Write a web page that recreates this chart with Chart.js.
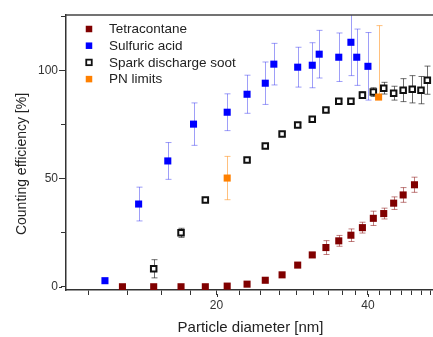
<!DOCTYPE html>
<html>
<head>
<meta charset="utf-8">
<title>Counting efficiency</title>
<script src="https://cdn.jsdelivr.net/npm/chart.js@4.4.1/dist/chart.umd.min.js"></script>
<style>
  html, body { margin: 0; padding: 0; background: #fff; overflow: hidden; }
  #wrap { position: relative; width: 441px; height: 337px; }
</style>
</head>
<body>
<div id="wrap"><canvas id="effChart" width="441" height="337"></canvas></div>
<script>
// particle diameter [nm] / counting efficiency [%] / error [%]
const tetraDiam = [13, 15, 17, 19, 21, 23, 25, 27, 29, 31, 33, 35, 37, 39, 41, 43, 45, 47, 49.5];
const tetraEff  = [0, 0, 0, 0, 0.3, 1.2, 3, 5.5, 10, 14.7, 18.1, 21.2, 23.8, 27.3, 31.6, 33.8, 38.6, 42.4, 47.1];
const tetraErr  = [0, 0, 0, 0, 0, 0, 0, 0, 0, 1, 3.2, 2.5, 2.9, 2.5, 3.3, 2.5, 2.9, 3.4, 3.5];

const acidDiam = [12, 14, 16, 18, 21, 23, 25, 26, 29, 31, 32, 35, 37, 38, 40];
const acidEff  = [2.8, 38.2, 58.1, 75.1, 80.6, 88.9, 94.0, 102.8, 101.4, 102.3, 107.4, 106.0, 112.9, 106.0, 101.8];
const acidErr  = [0, 7.8, 8.5, 9.8, 8.5, 8.8, 9.8, 9.6, 9.2, 10.4, 11, 11.2, 15.4, 13, 15.6];

const sootDiam = [15, 17, 19, 23, 25, 27, 29, 31, 33, 35, 37, 39, 41, 43, 45, 47, 49, 51, 52.5];
const sootEff  = [8.3, 24.9, 40.1, 58.5, 65.0, 70.5, 74.7, 77.4, 81.6, 85.7, 85.7, 88.5, 89.9, 91.7, 89.4, 90.8, 91.2, 90.8, 95.4];
const sootErr  = [4.2, 2.1, 1, 1, 1, 1, 1, 1, 1, 1, 1, 1.5, 2, 2.7, 3.2, 5.3, 6.3, 6.3, 6.5];

const pnDiam    = [21, 42];
const pnEff     = [50.2, 87.6];
const pnErrUp   = [10, 33];
const pnErrDown = [10, 0];

// axis ticks
const yTicks  = [0, 25, 50, 75, 100, 125];
const yLabels = [0, 50, 100];
const xLabels = [20, 40];

const FONT = "'Liberation Sans', Arial, sans-serif";
const TEXT = '#222';
const AXIS = '#333';

function points(xs, ys) {
    return xs.map((x, i) => ({ x: x, y: ys[i] }));
}

// minor ticks: 9 steps between 20 and 40
const xTicks = [];
for (let k = -4; k <= 15; k++) {
    xTicks.push(20 + (20 * k) / 9);
}

const errorBars = {
    id: 'errorBars',
    beforeDatasetsDraw(chart) {
        const { ctx, chartArea, scales } = chart;
        ctx.save();
        ctx.beginPath();
        ctx.rect(chartArea.left, chartArea.top, chartArea.width, chartArea.height);
        ctx.clip();
        chart.data.datasets.forEach(ds => {
            if (!ds.errUp) return;
            ctx.strokeStyle = ds.errColor;
            ctx.lineWidth = 1;
            ds.data.forEach((p, i) => {
                const up = ds.errUp[i];
                const down = ds.errDown ? ds.errDown[i] : up;
                if (!up && !down) return;
                const px = Math.round(scales.x.getPixelForValue(p.x)) + 0.5;
                const top = scales.y.getPixelForValue(p.y + up);
                const bot = scales.y.getPixelForValue(p.y - down);
                ctx.beginPath();
                ctx.moveTo(px, top);
                ctx.lineTo(px, bot);
                if (up) { ctx.moveTo(px - 3, top); ctx.lineTo(px + 3, top); }
                if (down) { ctx.moveTo(px - 3, bot); ctx.lineTo(px + 3, bot); }
                ctx.stroke();
            });
        });
        ctx.restore();
    }
};

// top frame line, longer major ticks, rotated y title and the legend box
const decor = {
    id: 'decor',
    afterDraw(chart) {
        const { ctx, chartArea, scales } = chart;
        ctx.save();
        ctx.strokeStyle = '#444';
        ctx.lineWidth = 1.5;
        ctx.beginPath();
        ctx.moveTo(chartArea.left, chartArea.top);
        ctx.lineTo(chartArea.right, chartArea.top);
        ctx.stroke();

        ctx.strokeStyle = AXIS;
        ctx.lineWidth = 1;
        ctx.beginPath();
        xLabels.forEach(v => {
            const px = Math.round(scales.x.getPixelForValue(v)) + 0.5;
            ctx.moveTo(px, chartArea.bottom + 4);
            ctx.lineTo(px, chartArea.bottom + 7);
        });
        yLabels.forEach(v => {
            const py = Math.round(scales.y.getPixelForValue(v)) + 0.5;
            ctx.moveTo(chartArea.left - 4, py);
            ctx.lineTo(chartArea.left - 7, py);
        });
        ctx.stroke();

        ctx.fillStyle = TEXT;
        ctx.font = '14px ' + FONT;
        ctx.textAlign = 'center';
        ctx.textBaseline = 'middle';
        ctx.translate(22, 164);
        ctx.rotate(-Math.PI / 2);
        ctx.fillText('Counting efficiency [%]', 0, 0);
        ctx.restore();

        ctx.save();
        ctx.font = '13.5px ' + FONT;
        ctx.textBaseline = 'middle';
        chart.data.datasets.forEach((ds, i) => {
            const cy = 29 + i * 16.7;
            const s = 6.5;
            if (ds.pointBackgroundColor === '#ffffff') {
                ctx.strokeStyle = ds.pointBorderColor;
                ctx.lineWidth = 1.8;
                ctx.strokeRect(89 - s / 2 + 0.5, cy - s / 2 + 0.5, s - 1, s - 1);
            } else {
                ctx.fillStyle = ds.pointBackgroundColor;
                ctx.fillRect(89 - s / 2, cy - s / 2, s, s);
            }
            ctx.fillStyle = TEXT;
            ctx.fillText(ds.label, 109, cy + 0.5);
        });
        ctx.restore();
    }
};

const filled = (color) => ({
    pointStyle: 'rect',
    pointRadius: 5,
    pointHoverRadius: 5,
    pointBorderWidth: 0,
    pointBackgroundColor: color,
    pointBorderColor: color,
    showLine: false
});

new Chart(document.getElementById('effChart'), {
    type: 'scatter',
    data: {
        datasets: [
            Object.assign({
                label: 'Tetracontane',
                data: points(tetraDiam, tetraEff),
                errUp: tetraErr,
                errColor: 'rgba(140, 20, 20, 0.55)',
                order: 1
            }, filled('#800000')),
            Object.assign({
                label: 'Sulfuric acid',
                data: points(acidDiam, acidEff),
                errUp: acidErr,
                errColor: 'rgba(40, 40, 240, 0.45)',
                order: 2
            }, filled('#0000ff')),
            {
                label: 'Spark discharge soot',
                data: points(sootDiam, sootEff),
                errUp: sootErr,
                errColor: 'rgba(30, 30, 30, 0.65)',
                order: 3,
                pointStyle: 'rect',
                pointRadius: 3.9,
                pointHoverRadius: 3.9,
                pointBorderWidth: 2,
                pointBackgroundColor: '#ffffff',
                pointBorderColor: '#111111',
                showLine: false
            },
            Object.assign({
                label: 'PN limits',
                data: points(pnDiam, pnEff),
                errUp: pnErrUp,
                errDown: pnErrDown,
                errColor: 'rgba(255, 140, 20, 0.55)',
                order: 0
            }, filled('#ff8000'))
        ]
    },
    options: {
        responsive: false,
        animation: false,
        events: [],
        layout: { padding: { top: 15, left: 0, right: 0, bottom: 0 } },
        plugins: {
            legend: { display: false },
            tooltip: { enabled: false }
        },
        scales: {
            x: {
                type: 'logarithmic',
                min: 10.04,
                max: 54.4,
                bounds: 'data',
                afterBuildTicks: (scale) => {
                    scale.ticks = xTicks.map(v => ({ value: v }));
                },
                afterFit: (scale) => { scale.height = 47; },
                ticks: {
                    autoSkip: false,
                    maxRotation: 0,
                    padding: 3,
                    color: AXIS,
                    font: { family: FONT, size: 12 },
                    callback: (v) => xLabels.some(t => Math.abs(t - v) < 1e-6) ? String(Math.round(v)) : ''
                },
                grid: { drawOnChartArea: false, drawTicks: true, tickLength: 5, color: AXIS },
                border: { display: true, color: AXIS, width: 1.5 },
                title: {
                    display: true,
                    text: 'Particle diameter [nm]',
                    color: TEXT,
                    font: { family: FONT, size: 15 },
                    padding: { top: 0, bottom: 0 }
                }
            },
            y: {
                type: 'linear',
                min: -1.5,
                max: 125.5,
                afterBuildTicks: (scale) => {
                    scale.ticks = yTicks.map(v => ({ value: v }));
                },
                afterFit: (scale) => { scale.width = 66; },
                ticks: {
                    padding: 3,
                    color: AXIS,
                    font: { family: FONT, size: 12 },
                    callback: (v) => yLabels.includes(v) ? String(v) : ''
                },
                grid: { drawOnChartArea: false, drawTicks: true, tickLength: 5, color: AXIS },
                border: { display: true, color: AXIS, width: 1.5 }
            }
        }
    },
    plugins: [errorBars, decor]
});
</script>
</body>
</html>
